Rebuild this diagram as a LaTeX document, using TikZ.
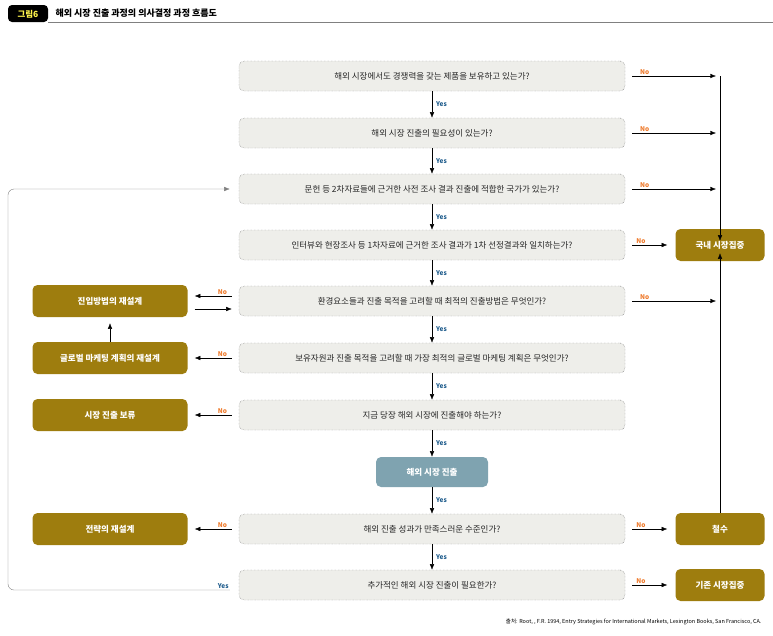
\documentclass[tikz,border=0pt]{standalone}
\usepackage{fontspec}
\setmainfont{Noto Sans CJK KR}
\usetikzlibrary{arrows.meta}
\definecolor{gold}{HTML}{9E7D0E}
\definecolor{qfill}{HTML}{EEEEEA}
\definecolor{entry}{HTML}{7FA3B0}
\definecolor{noclr}{HTML}{EE7A2C}
\definecolor{yesclr}{HTML}{1F5C8C}
\tikzstyle{question}=[draw=black!60, densely dotted, fill=qfill, rounded corners=5pt, minimum width=386pt, minimum height=30pt, font=\fontsize{8.5}{9}\selectfont, text=black!85]
\tikzstyle{action}=[fill=gold, rounded corners=5pt, minimum height=32pt, text=white, font=\bfseries\fontsize{8.5}{9}\selectfont]
\tikzstyle{arrow}=[draw=black, thin, -{Latex[length=2mm,width=1.6mm]}]
\tikzstyle{no}=[text=noclr, font=\bfseries\fontsize{6.5}{7}\selectfont, inner sep=1pt]
\tikzstyle{yes}=[text=yesclr, font=\bfseries\fontsize{6.5}{7}\selectfont, inner sep=1pt]
\begin{document}
\begin{tikzpicture}[x=1pt, y=-1pt]
		   \useasboundingbox (0,0) rectangle (773,635);
		   \begin{scope}
			   % title
			   \fill[black, rounded corners=4pt] (8,5) rectangle (48,22);
			   \node (fig) at (28,14) {\textcolor{yellow!70!white}{\bfseries\fontsize{8.5}{9}\selectfont 그림6}};
			   \node[anchor=west] (title) at (52,13) {\bfseries\fontsize{9}{10}\selectfont 해외 시장 진출 과정의 의사결정 과정 흐름도};
			   \draw[gray] (48,22) -- (773,22);

			   \node (q1) at (432,76)[question] {해외 시장에서도 경쟁력을 갖는 제품을 보유하고 있는가?};
			   \node (q2) at (432,133)[question] {해외 시장 진출의 필요성이 있는가?};
			   \node (q3) at (432,189)[question] {문헌 등 2차자료들에 근거한 사전 조사 결과 진출에 적합한 국가가 있는가?};
			   \node (q4) at (432,245)[question] {인터뷰와 현장조사 등 1차자료에 근거한 조사 결과가 1차 선정결과와 일치하는가?};
			   \node (q5) at (432,301)[question] {환경요소들과 진출 목적을 고려할 때 최적의 진출방법은 무엇인가?};
			   \node (q6) at (432,358)[question] {보유자원과 진출 목적을 고려할 때 가장 최적의 글로벌 마케팅 계획은 무엇인가?};
			   \node (q7) at (432,415)[question] {지금 당장 해외 시장에 진출해야 하는가?};
			   \node (go) at (432,472)[fill=entry, rounded corners=5pt, minimum width=112pt, minimum height=30pt, text=white, font=\bfseries\fontsize{8.5}{9}\selectfont] {해외 시장 진출};
			   \node (q8) at (432,529)[question] {해외 진출 성과가 만족스러운 수준인가?};
			   \node (q9) at (432,585)[question] {추가적인 해외 시장 진출이 필요한가?};

			   \node (mode) at (110,301)[action, minimum width=155pt] {진입방법의 재설계};
			   \node (plan) at (110,358)[action, minimum width=155pt] {글로벌 마케팅 계획의 재설계};
			   \node (hold) at (110,415)[action, minimum width=155pt] {시장 진출 보류};
			   \node (strat) at (110,529)[action, minimum width=155pt] {전략의 재설계};

			   \node (home) at (720,245)[action, minimum width=89pt] {국내 시장집중};
			   \node (exit) at (720,529)[action, minimum width=89pt] {철수};
			   \node (keep) at (720,585)[action, minimum width=89pt] {기존 시장집중};

			   \coordinate (join) at (720,76);
			   \coordinate (loopa) at (8,590);
			   \coordinate (loopb) at (8,189);
		   \end{scope}
		   \begin{scope}
			   % yes chain
			   \path [arrow] (q1) edge node[yes, right, xshift=3pt] {Yes} (q2);
			   \path [arrow] (q2) edge node[yes, right, xshift=3pt] {Yes} (q3);
			   \path [arrow] (q3) edge node[yes, right, xshift=3pt] {Yes} (q4);
			   \path [arrow] (q4) edge node[yes, right, xshift=3pt] {Yes} (q5);
			   \path [arrow] (q5) edge node[yes, right, xshift=3pt] {Yes} (q6);
			   \path [arrow] (q6) edge node[yes, right, xshift=3pt] {Yes} (q7);
			   \path [arrow] (q7) edge node[yes, right, xshift=3pt] {Yes} (go);
			   \path [arrow] (go) edge node[yes, right, xshift=3pt] {Yes} (q8);
			   \path [arrow] (q8) edge node[yes, right, xshift=3pt] {Yes} (q9);

			   % no to the right
			   \draw [arrow] ([xshift=7pt]q1.east) -- node[no, above, pos=0.15] {No} ([xshift=-4pt]join);
			   \draw [arrow] ([xshift=7pt]q2.east) -- node[no, above, pos=0.15] {No} (716,133);
			   \draw [arrow] ([xshift=7pt]q3.east) -- node[no, above, pos=0.15] {No} (716,189);
			   \draw [arrow] ([xshift=7pt]q4.east) -- node[no, above, pos=0.25] {No} ([xshift=-8pt]home.west);
			   \draw [arrow] ([xshift=7pt]q5.east) -- node[no, above, pos=0.15] {No} (716,301);
			   \draw [arrow] (join) -- ([yshift=-12pt]home.north);
			   \draw [arrow] (exit.north) -- ([yshift=8pt]home.south);
			   \draw [arrow] ([xshift=7pt]q8.east) -- node[no, above, pos=0.25] {No} ([xshift=-8pt]exit.west);
			   \draw [arrow] ([xshift=7pt]q9.east) -- node[no, above, pos=0.25] {No} ([xshift=-8pt]keep.west);

			   % no to the left
			   \draw [arrow] ([xshift=-7pt,yshift=5pt]q5.west) -- node[no, above, pos=0.25] {No} ([xshift=7pt,yshift=5pt]mode.east);
			   \draw [arrow] ([xshift=7pt,yshift=-8pt]mode.east) -- ([xshift=-7pt,yshift=-8pt]q5.west);
			   \draw [arrow] ([xshift=-7pt]q6.west) -- node[no, above, pos=0.25] {No} ([xshift=7pt]plan.east);
			   \draw [arrow] ([xshift=-7pt]q7.west) -- node[no, above, pos=0.25] {No} ([xshift=7pt]hold.east);
			   \draw [arrow] ([xshift=-7pt]q8.west) -- node[no, above, pos=0.25] {No} ([xshift=7pt]strat.east);
			   \draw [arrow] (plan.north) -- ([yshift=-6pt]mode.south);

			   % loop back
			   \draw [arrow, draw=gray, rounded corners=6pt] ([xshift=-9pt,yshift=-5pt]q9.west) node[yes, above left] {Yes} -- (loopa) -- (loopb) -- ([xshift=-9pt]q3.west);

			   \node[anchor=east] (src) at (765,622) {\fontsize{5.5}{6}\selectfont 출처: Root, , F.R. 1994, Entry Strategies for International Markets, Lexington Books, San Francisco, CA.};
		   \end{scope}
	   \end{tikzpicture}
\end{document}
